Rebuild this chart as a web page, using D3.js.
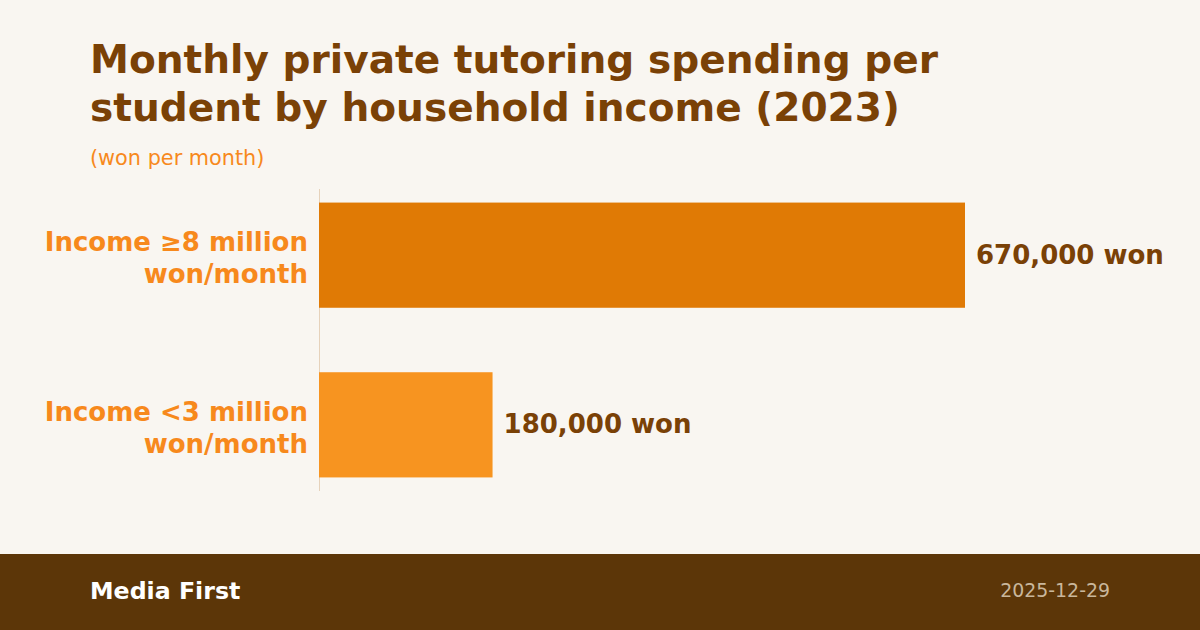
<!DOCTYPE html>
<html>
<head>
<meta charset="utf-8">
<script src="https://cdn.jsdelivr.net/npm/d3@7"></script>
<style>
  html, body { margin: 0; padding: 0; background: #f9f6f1; }
  svg { display: block; }
  svg text { font-family: 'DejaVu Sans', Verdana, sans-serif; }
</style>
</head>
<body>
<svg id="chart" width="1200" height="630"></svg>
<script>
const categories = [["Income ≥8 million", "won/month"], ["Income <3 million", "won/month"]];
const values = [670000, 180000];
const valueLabels = ["670,000 won", "180,000 won"];
const barColors = ["#e07a05", "#f79420"];
const titleLines = ["Monthly private tutoring spending per", "student by household income (2023)"];
const subtitle = "(won per month)";
const source = "Media First";
const dateText = "2025-12-29";

const svg = d3.select("#chart");
svg.append("rect").attr("width", 1200).attr("height", 630).attr("fill", "#f9f6f1");

// Title
svg.append("text").attr("x", 90).attr("y", 73)
  .attr("fill", "#7a4106").attr("font-size", 39.1).attr("font-weight", "bold")
  .selectAll("tspan").data(titleLines).join("tspan")
  .attr("x", 90).attr("dy", (d, i) => i === 0 ? 0 : 48).text(d => d);

svg.append("text").attr("x", 90).attr("y", 165)
  .attr("fill", "#f7891c").attr("font-size", 20.8).text(subtitle);

const idx = d3.range(values.length);
const y = d3.scaleBand().domain(idx).range([189, 491]).paddingInner(0.38).paddingOuter(0.08);
const x = d3.scaleLinear().domain([0, 670000]).range([319, 965]);

// Axis line
svg.append("line").attr("x1", 319.5).attr("x2", 319.5).attr("y1", 189).attr("y2", 491)
  .attr("stroke", "#e6d2bb").attr("stroke-width", 1);

svg.selectAll("rect.bar").data(idx).join("rect").attr("class", "bar")
  .attr("x", x(0)).attr("y", i => y(i))
  .attr("width", i => x(values[i]) - x(0)).attr("height", y.bandwidth())
  .attr("fill", i => barColors[i]);

// Category labels
svg.selectAll("text.cat").data(idx).join("text").attr("class", "cat")
  .attr("text-anchor", "end").attr("fill", "#f7891c")
  .attr("font-size", 26).attr("font-weight", "bold")
  .each(function(i) {
    const t = d3.select(this);
    const cy = y(i) + y.bandwidth() / 2;
    categories[i].forEach((line, j) => {
      t.append("tspan").attr("x", 308).attr("y", cy - 4 + j * 32).text(line);
    });
  });

// Value labels
svg.selectAll("text.val").data(idx).join("text").attr("class", "val")
  .attr("x", i => x(values[i]) + 11)
  .attr("y", i => y(i) + y.bandwidth() / 2 + 8.5)
  .attr("fill", "#7a4106").attr("font-size", 26).attr("font-weight", "bold")
  .text(i => valueLabels[i]);

// Footer
svg.append("rect").attr("x", 0).attr("y", 554).attr("width", 1200).attr("height", 76).attr("fill", "#5c3608");
svg.append("text").attr("x", 90).attr("y", 599).attr("fill", "#ffffff")
  .attr("font-size", 23.7).attr("font-weight", "bold").text(source);
svg.append("text").attr("x", 1110).attr("y", 597).attr("text-anchor", "end")
  .attr("fill", "#c9b79c").attr("font-size", 18.9).text(dateText);
</script>
</body>
</html>
